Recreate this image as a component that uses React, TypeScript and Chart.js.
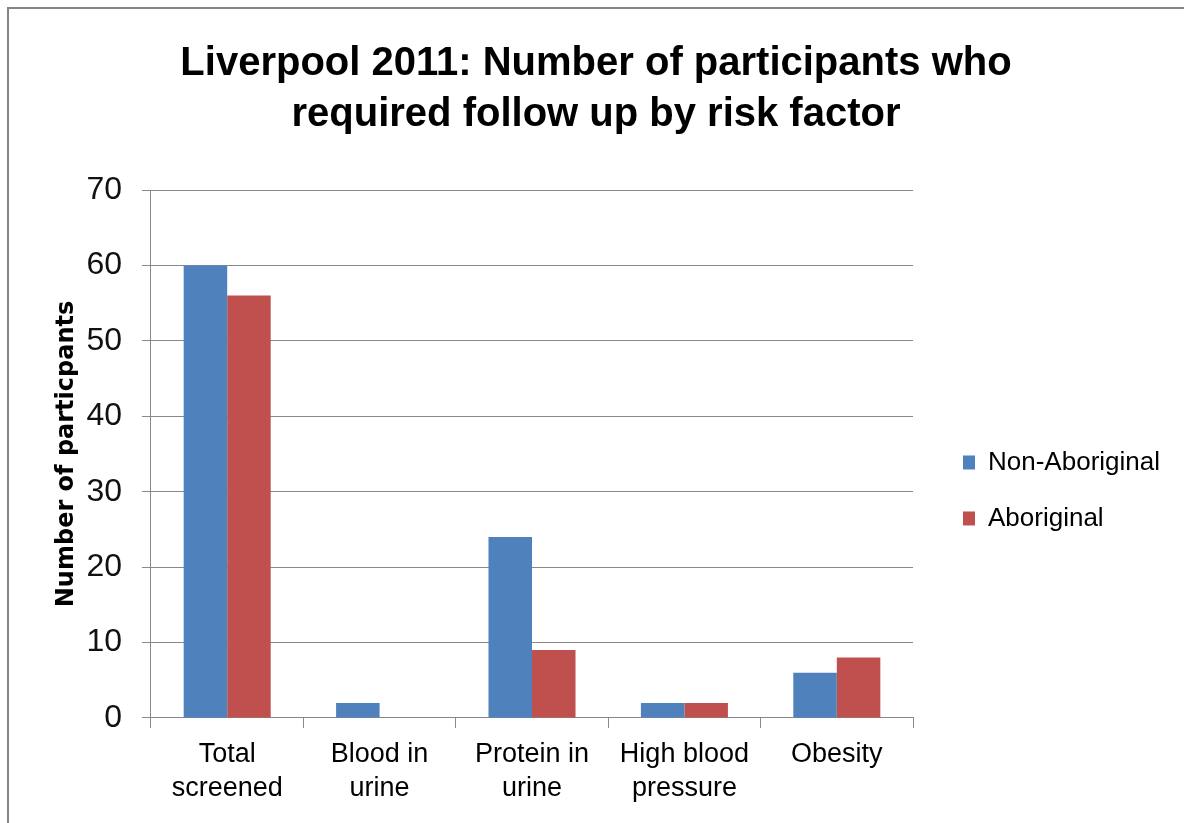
import React, { useEffect, useRef } from 'react';
import { Chart, registerables, layouts } from 'chart.js';

Chart.register(...registerables);

// ---- data ----
const categories: string[][] = [
  ['Total', 'screened'],
  ['Blood in', 'urine'],
  ['Protein in', 'urine'],
  ['High blood', 'pressure'],
  ['Obesity'],
];
const nonAboriginal = [60, 2, 24, 2, 6];
const aboriginal = [56, 0, 9, 2, 8];
const seriesNames = ['Non-Aboriginal', 'Aboriginal'];
const seriesColors = ['#4F81BD', '#C0504D'];
const yMin = 0;
const yMax = 70;
const yStep = 10;
const titleLines = ['Liverpool 2011: Number of participants who', 'required follow up by risk factor'];
const yAxisTitle = 'Number of particpants';

const FONT = "'Liberation Sans', Arial, Helvetica, sans-serif";
const AXIS_GRAY = '#888888';

// empty layout box that keeps a gap between the plot area and the legend
const legendGapPlugin = {
  id: 'legendGap',
  beforeInit(chart: any) {
    const box: any = {
      position: 'right',
      weight: 500,
      fullSize: false,
      options: {},
      left: 0, top: 0, right: 0, bottom: 0, width: 0, height: 0,
      isHorizontal() { return false; },
      update(_maxWidth: number, maxHeight: number) {
        this.width = 20;
        this.height = maxHeight;
      },
      draw() {},
    };
    layouts.addBox(chart, box);
  },
};

export default function App() {
  const canvasRef = useRef<HTMLCanvasElement | null>(null);

  useEffect(() => {
    const canvas = canvasRef.current;
    if (!canvas) return;
    const chart = new Chart(canvas, {
      type: 'bar',
      data: {
        labels: categories,
        datasets: [
          {
            label: seriesNames[0],
            data: nonAboriginal,
            backgroundColor: seriesColors[0],
            borderWidth: 0,
            barPercentage: 1,
            categoryPercentage: 0.571,
          },
          {
            label: seriesNames[1],
            data: aboriginal,
            backgroundColor: seriesColors[1],
            borderWidth: 0,
            barPercentage: 1,
            categoryPercentage: 0.571,
          },
        ],
      },
      options: {
        responsive: false,
        animation: false,
        devicePixelRatio: 1,
        layout: { padding: { left: 22, right: 14, top: 0, bottom: 7 } },
        plugins: {
          title: {
            display: true,
            text: titleLines,
            color: '#000',
            font: { family: FONT, size: 40, weight: 'bold', lineHeight: 1.275 },
            padding: { top: 38.6, bottom: 49.4 },
          },
          legend: {
            display: true,
            position: 'right',
            align: 'center',
            fullSize: false,
            maxWidth: 400,
            labels: {
              boxWidth: 12,
              boxHeight: 14,
              padding: 30,
              color: '#000',
              font: { family: FONT, size: 26 },
            },
            title: {
              display: true,
              text: '',
              padding: { top: 0, bottom: 58.6 },
              font: { family: FONT, size: 12 },
            },
          },
          tooltip: { enabled: false },
        },
        scales: {
          x: {
            offset: true,
            grid: {
              offset: true,
              drawOnChartArea: false,
              drawTicks: true,
              tickLength: 10,
              color: AXIS_GRAY,
            },
            border: { display: true, color: AXIS_GRAY, width: 1 },
            ticks: {
              color: '#000',
              padding: 10,
              maxRotation: 0,
              autoSkip: false,
              font: { family: FONT, size: 27, lineHeight: 1.26 },
            },
          },
          y: {
            min: yMin,
            max: yMax,
            ticks: {
              stepSize: yStep,
              color: '#111',
              padding: 20,
              font: { family: FONT, size: 32 },
            },
            grid: {
              drawOnChartArea: true,
              drawTicks: true,
              tickLength: 9,
              color: AXIS_GRAY,
            },
            border: { display: true, color: AXIS_GRAY, width: 1 },
            title: {
              display: true,
              text: yAxisTitle,
              color: '#000',
              font: { family: "'DejaVu Sans', Verdana, sans-serif", size: 24, weight: 'bold', lineHeight: 1.2 },
              padding: { top: 30.3, bottom: -14.7 },
            },
          },
        },
      },
      plugins: [legendGapPlugin],
    });
    return () => chart.destroy();
  }, []);

  return (
    <div>
      <div
        style={{
          position: 'fixed',
          left: 7,
          top: 7,
          width: 1400,
          height: 1000,
          borderLeft: '2px solid #858585',
          borderTop: '2px solid #858585',
          background: '#fff',
          boxSizing: 'border-box',
        }}
      />
      <div style={{ position: 'fixed', left: 0, top: 0, width: 1184, height: 823 }}>
        <canvas ref={canvasRef} width={1184} height={823} style={{ display: 'block' }} />
      </div>
    </div>
  );
}
